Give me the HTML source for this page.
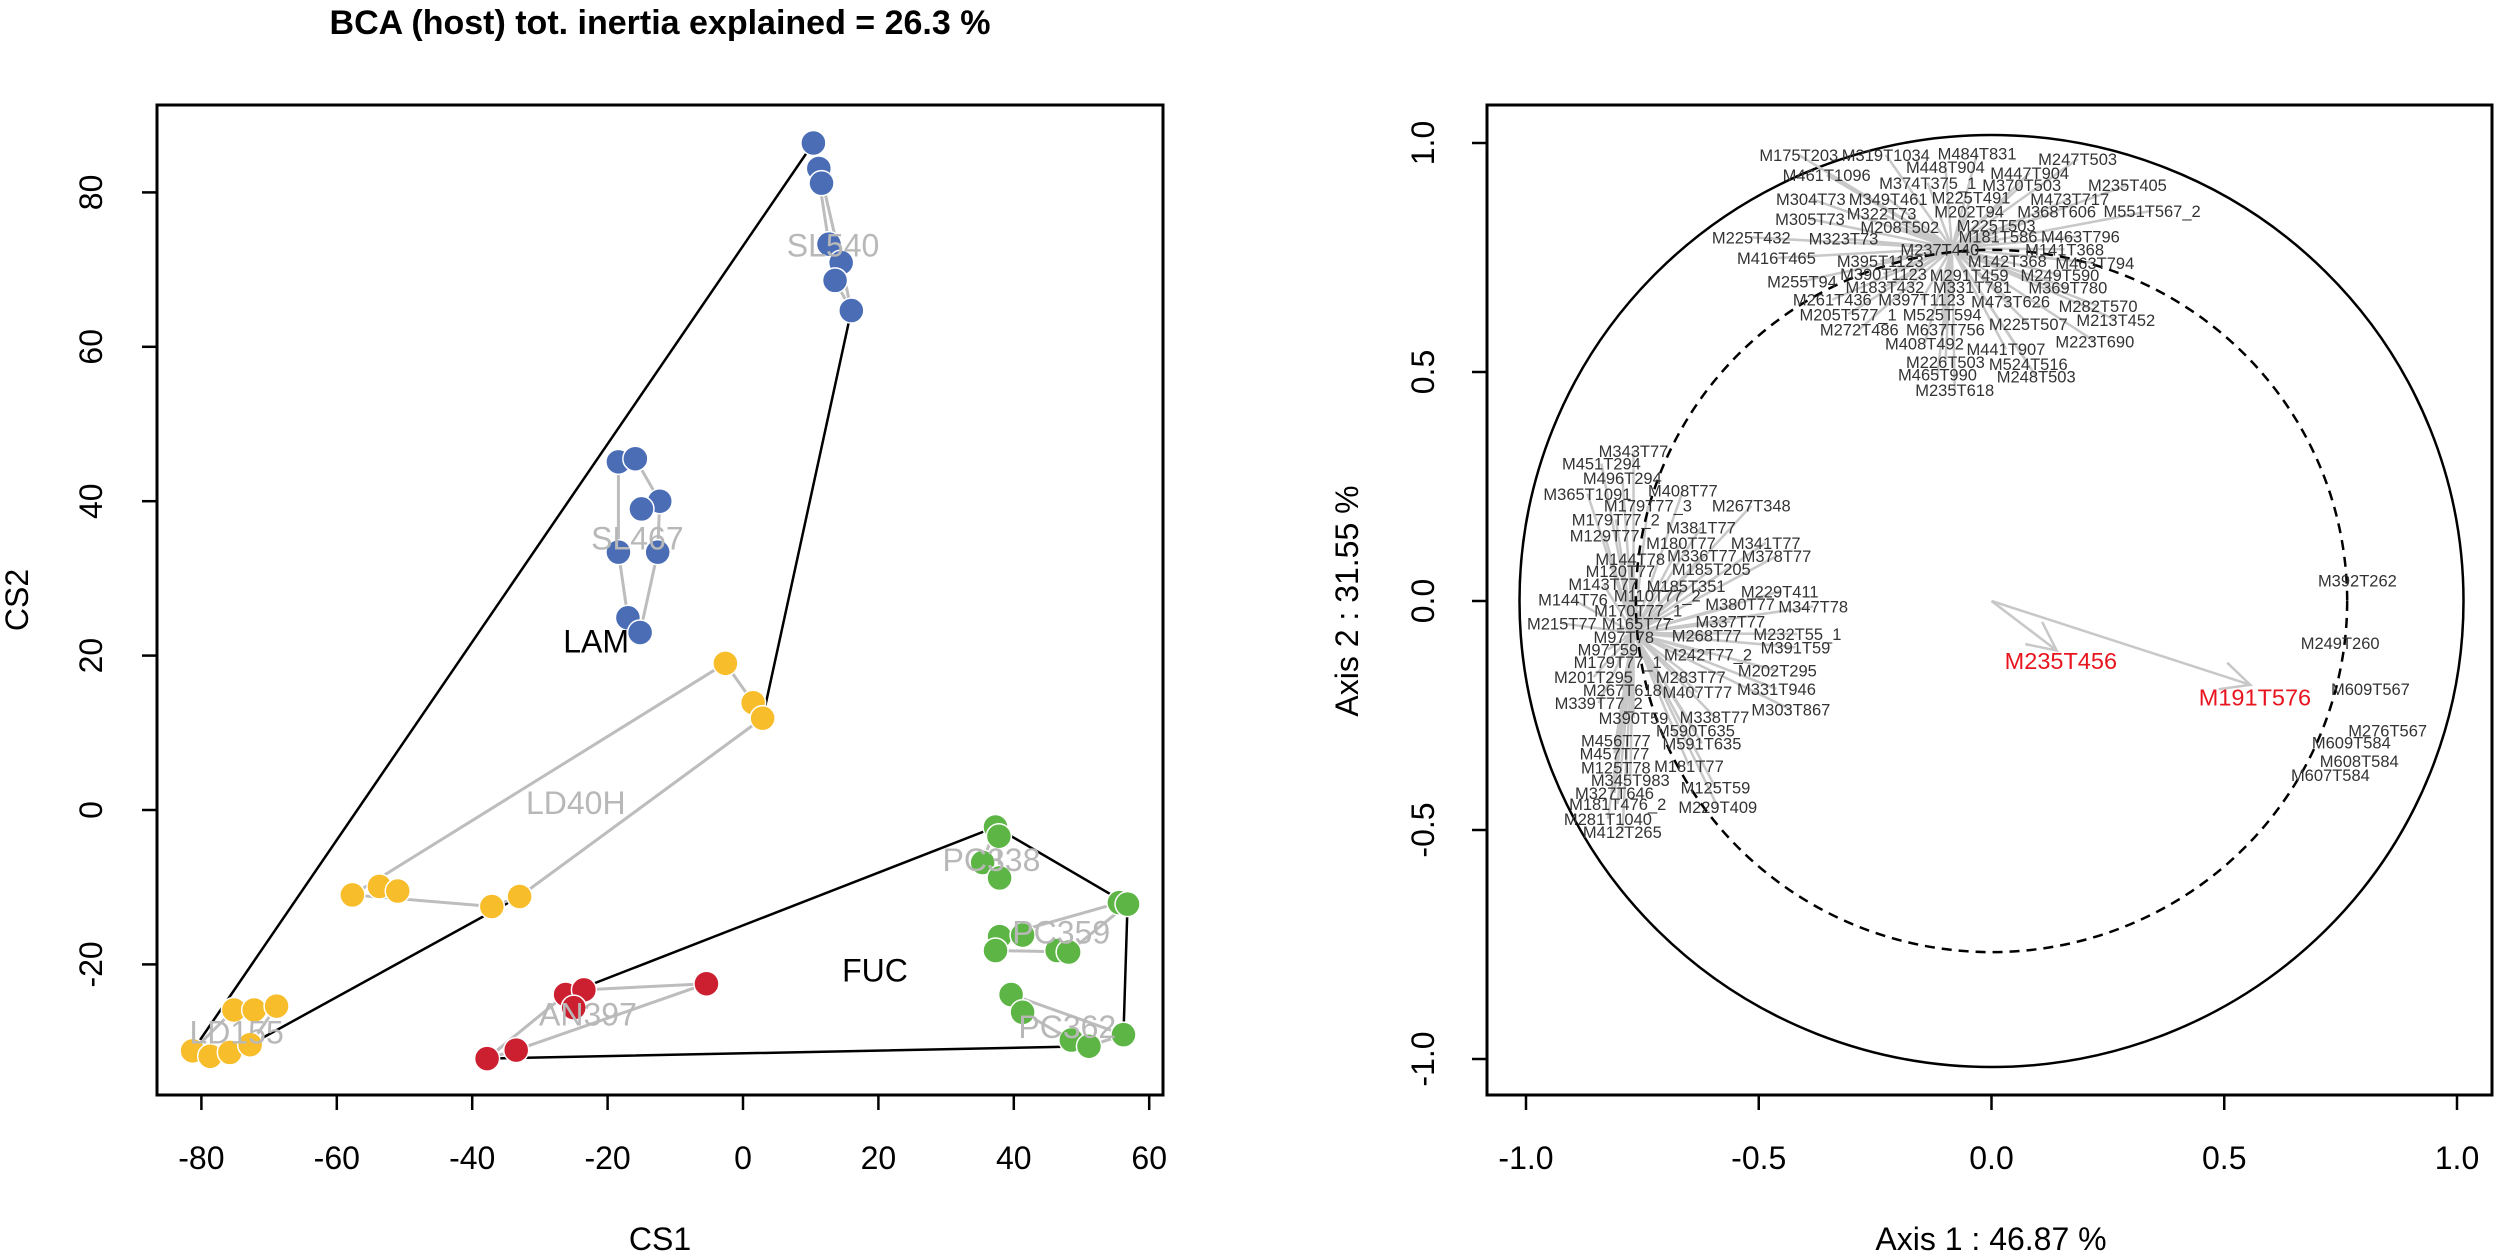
<!DOCTYPE html>
<html><head><meta charset="utf-8"><style>
html,body{margin:0;padding:0;background:#fff;}
svg{display:block;font-family:"Liberation Sans",Arial,sans-serif;}
</style></head><body>
<svg id="chart" width="2500" height="1254" viewBox="0 0 2500 1254" xmlns="http://www.w3.org/2000/svg">
<text x="660" y="34" font-size="34" font-weight="bold" text-anchor="middle">BCA (host) tot. inertia explained = 26.3 %</text>
<g id="left"></g>
<g id="right"></g>
</svg>
<script>
// ---------- Left panel data ----------
const groupNames = ["SL540","SL467","LD40H","LD155","AN397","PC338","PC359","PC362"];
const groupColors = ["#4a6db5","#4a6db5","#f7bd2a","#f7bd2a","#cc1f30","#5db545","#5db545","#5db545"];
const groupClass = ["LAM","LAM","LAM","LAM","FUC","FUC","FUC","FUC"];
const groupPointsX = [
 [10.4,11.2,11.6,12.7,14.5,13.6,16.0],
 [-18.4,-15.9,-12.3,-15.0,-18.4,-12.6,-17.0,-15.2],
 [-2.6,1.5,2.9,-57.7,-53.7,-51.0,-37.1,-33.0],
 [-81.3,-78.7,-75.8,-72.8,-75.2,-72.2,-68.9],
 [-37.8,-33.5,-26.2,-23.5,-5.4,-25.0],
 [37.3,37.8,35.4,37.9],
 [55.6,56.8,37.9,41.3,37.3,46.4,48.1],
 [39.6,41.3,56.2,48.5,51.1]
];
const groupPointsY = [
 [86.4,83.1,81.2,73.3,70.9,68.6,64.7],
 [45.1,45.5,40.0,39.0,33.4,33.4,24.9,23.0],
 [19.0,13.9,11.9,-11.0,-9.9,-10.5,-12.5,-11.2],
 [-31.2,-31.9,-31.4,-30.4,-25.9,-25.9,-25.4],
 [-32.2,-31.1,-23.9,-23.3,-22.5,-25.6],
 [-2.2,-3.4,-6.8,-8.8],
 [-12.0,-12.2,-16.4,-16.2,-18.2,-18.2,-18.4],
 [-23.9,-26.2,-29.1,-29.8,-30.6]
];
const groupLabelX = [13.3,-15.6,-24.7,-74.8,-22.9,36.7,47.0,47.9];
const groupLabelY = [73.1,35.2,0.9,-28.8,-26.5,-6.5,-15.9,-28.1];
const classNames = ["LAM","FUC"];
const classLabelX = [-21.7,19.5];
const classLabelY = [21.8,-20.8];
const leftXTicks = [-80,-60,-40,-20,0,20,40,60];
const leftYTicks = [-20,0,20,40,60,80];

// ---------- Right panel data ----------
const varNames = ["M175T203","M319T1034","M484T831","M247T503","M461T1096","M448T904","M447T904","M374T375_1","M370T503","M235T405","M304T73","M349T461","M225T491","M473T717","M305T73","M322T73","M202T94","M368T606","M551T567_2","M208T502","M225T503","M225T432","M323T73","M181T586","M463T796","M237T440","M141T368","M416T465","M395T1123","M142T368","M463T794","M390T1123","M291T459","M249T590","M255T94","M183T432","M331T781","M369T780","M261T436","M397T1123","M473T626","M282T570","M205T577_1","M525T594","M213T452","M272T486","M637T756","M225T507","M223T690","M408T492","M441T907","M226T503","M524T516","M465T990","M248T503","M235T618",
"M343T77","M451T294","M496T294","M365T1091","M408T77","M179T77_3","M267T348","M179T77_2","M381T77","M129T77","M341T77","M180T77","M336T77","M378T77","M144T78","M185T205","M120T77","M143T77","M185T351","M229T411","M110T77_2","M144T76","M380T77","M347T78","M170T77_1","M215T77","M165T77","M337T77","M232T55_1","M268T77","M97T78","M391T59","M97T59","M242T77_2","M179T77_1","M202T295","M201T295","M283T77","M267T618","M407T77","M331T946","M339T77_2","M303T867","M390T59","M338T77","M590T635","M456T77","M591T635","M457T77","M125T78","M181T77","M345T983","M125T59","M327T646","M181T476_2","M229T409","M281T1040","M412T265",
"M392T262","M249T260","M609T567","M276T567","M609T584","M608T584","M607T584"];
const varX = [-0.414,-0.227,-0.031,0.185,-0.354,-0.099,0.082,-0.137,0.065,0.292,-0.388,-0.222,-0.044,0.168,-0.390,-0.236,-0.048,0.140,0.345,-0.197,0.010,-0.516,-0.318,0.014,0.191,-0.111,0.157,-0.462,-0.239,0.034,0.222,-0.232,-0.048,0.147,-0.407,-0.229,-0.041,0.164,-0.342,-0.150,0.041,0.229,-0.308,-0.106,0.267,-0.284,-0.099,0.079,0.222,-0.144,0.031,-0.099,0.079,-0.116,0.096,-0.079,
-0.769,-0.838,-0.793,-0.868,-0.663,-0.738,-0.516,-0.807,-0.624,-0.831,-0.485,-0.667,-0.622,-0.462,-0.776,-0.602,-0.797,-0.834,-0.656,-0.455,-0.718,-0.899,-0.540,-0.383,-0.759,-0.923,-0.762,-0.561,-0.417,-0.612,-0.790,-0.421,-0.824,-0.609,-0.803,-0.460,-0.855,-0.646,-0.793,-0.632,-0.462,-0.844,-0.431,-0.769,-0.595,-0.636,-0.807,-0.622,-0.810,-0.807,-0.650,-0.776,-0.593,-0.810,-0.803,-0.588,-0.824,-0.793,
0.786,0.749,0.814,0.851,0.773,0.790,0.728];
const varY = [0.974,0.974,0.977,0.965,0.930,0.948,0.935,0.913,0.908,0.908,0.878,0.878,0.881,0.878,0.834,0.846,0.850,0.850,0.852,0.817,0.820,0.794,0.791,0.796,0.796,0.768,0.768,0.749,0.742,0.742,0.738,0.714,0.712,0.712,0.698,0.686,0.686,0.684,0.658,0.658,0.654,0.644,0.626,0.626,0.614,0.593,0.593,0.605,0.567,0.562,0.550,0.522,0.518,0.494,0.490,0.461,
0.328,0.300,0.269,0.234,0.241,0.208,0.208,0.178,0.161,0.143,0.127,0.127,0.099,0.098,0.092,0.070,0.065,0.037,0.033,0.021,0.012,0.003,-0.007,-0.012,-0.021,-0.049,-0.049,-0.045,-0.072,-0.075,-0.079,-0.101,-0.106,-0.117,-0.133,-0.152,-0.166,-0.166,-0.194,-0.199,-0.192,-0.223,-0.237,-0.255,-0.253,-0.283,-0.305,-0.311,-0.333,-0.363,-0.360,-0.391,-0.407,-0.419,-0.443,-0.450,-0.476,-0.504,
0.045,-0.092,-0.192,-0.283,-0.309,-0.349,-0.380];
const varCluster = []; // 0 top, 1 left, 2 right
for (let i=0;i<56;i++) varCluster.push(0);
for (let i=0;i<58;i++) varCluster.push(1);
for (let i=0;i<7;i++) varCluster.push(2);
const clusterAnchorX = [-0.085,-0.769];
const clusterAnchorY = [0.77,-0.07];
const redNames = ["M235T456","M191T576"];
const redTipX = [0.140,0.556];
const redTipY = [-0.108,-0.183];
const redLabelX = [0.149,0.566];
const redLabelY = [-0.131,-0.211];
const rightTicks = [-1.0,-0.5,0.0,0.5,1.0];
const dashedRadius = 0.76;

const NS="http://www.w3.org/2000/svg";
function mk(parent, tag, attrs, text){
  const e=document.createElementNS(NS,tag);
  for(const k in attrs) e.setAttribute(k,attrs[k]);
  if(text!==undefined) e.textContent=text;
  parent.appendChild(e); return e;
}
// ---------- Left panel ----------
const L=document.getElementById('left');
const lx=v=>743+6.77*v, ly=v=>810-7.72*v;
function hull(pts){
  pts=pts.slice().sort((a,b)=>a[0]-b[0]||a[1]-b[1]);
  const cr=(o,a,b)=>(a[0]-o[0])*(b[1]-o[1])-(a[1]-o[1])*(b[0]-o[0]);
  const lo=[],up=[];
  for(const p of pts){while(lo.length>=2&&cr(lo[lo.length-2],lo[lo.length-1],p)<=0)lo.pop();lo.push(p);}
  for(let i=pts.length-1;i>=0;i--){const p=pts[i];while(up.length>=2&&cr(up[up.length-2],up[up.length-1],p)<=0)up.pop();up.push(p);}
  up.pop();lo.pop();return lo.concat(up);
}
classNames.forEach((c,ci)=>{
  let pts=[];
  groupNames.forEach((g,gi)=>{ if(groupClass[gi]===c) groupPointsX[gi].forEach((x,k)=>pts.push([x,groupPointsY[gi][k]])); });
  const h=hull(pts);
  const el=mk(L,'polygon',{points:h.map(p=>lx(p[0])+','+ly(p[1])).join(' '),fill:'none',stroke:'#000','stroke-width':2.5});
  
  
});
groupNames.forEach((g,gi)=>{
  const pts=groupPointsX[gi].map((x,k)=>[x,groupPointsY[gi][k]]);
  const h=hull(pts);
  const el=mk(L,'polygon',{points:h.map(p=>lx(p[0])+','+ly(p[1])).join(' '),fill:'none',stroke:'#bdbdbd','stroke-width':3});
  
  
});
groupNames.forEach((g,gi)=>{
  groupPointsX[gi].forEach((x,k)=>{
    const el=mk(L,'circle',{cx:lx(x),cy:ly(groupPointsY[gi][k]),r:12.5,fill:groupColors[gi],stroke:'#fff','stroke-width':1.5});
    
    
  });
});
groupNames.forEach((g,gi)=>{
  const el=mk(L,'text',{x:lx(groupLabelX[gi]),y:ly(groupLabelY[gi])+11,'font-size':32,fill:'#b8b8b8','text-anchor':'middle'},g);
  
  
});
classNames.forEach((c,ci)=>{
  const el=mk(L,'text',{x:lx(classLabelX[ci]),y:ly(classLabelY[ci])+11,'font-size':32,fill:'#000','text-anchor':'middle'},c);
  
  
});
let e;
e=mk(L,'rect',{x:157,y:105,width:1006,height:990,fill:'none',stroke:'#000','stroke-width':3});


leftXTicks.forEach(t=>{
  let a=mk(L,'line',{x1:lx(t),x2:lx(t),y1:1095,y2:1110,stroke:'#000','stroke-width':2.5});
  
  
  let b=mk(L,'text',{x:lx(t),y:1169,'font-size':32,'text-anchor':'middle'},String(t));
  
  
});
leftYTicks.forEach(t=>{
  let a=mk(L,'line',{x1:142,x2:157,y1:ly(t),y2:ly(t),stroke:'#000','stroke-width':2.5});
  
  
  let b=mk(L,'text',{x:0,y:0,'font-size':32,'text-anchor':'middle',transform:'translate(102,'+ly(t)+') rotate(-90)'},String(t));
  
  
});
e=mk(L,'text',{x:660,y:1250,'font-size':32,'text-anchor':'middle'},'CS1');


e=mk(L,'text',{x:0,y:0,'font-size':32,'text-anchor':'middle',transform:'translate(28,600) rotate(-90)'},'CS2');



// ---------- Right panel ----------
const R=document.getElementById('right');
const rx=v=>1991.5+465.5*v, ry=v=>601-458*v;
e=mk(R,'ellipse',{cx:rx(0),cy:ry(0),rx:472,ry:466,fill:'none',stroke:'#000','stroke-width':2.5});


varNames.forEach((n,i)=>{
  const c=varCluster[i]; if(c>1) return;
  const el=mk(R,'line',{x1:rx(clusterAnchorX[c]),y1:ry(clusterAnchorY[c]),x2:rx(varX[i]),y2:ry(varY[i]),stroke:'#c8c8c8','stroke-width':2.5});
  
  
});
e=mk(R,'ellipse',{cx:rx(0),cy:ry(0),rx:468*dashedRadius,ry:462*dashedRadius,fill:'none',stroke:'#000','stroke-width':2.5,'stroke-dasharray':'10,7'});


redNames.forEach((n,i)=>{
  const x2=rx(redTipX[i]),y2=ry(redTipY[i]),x1=rx(0),y1=ry(0);
  const ang=Math.atan2(y2-y1,x2-x1),hl=32;
  const d='M'+x1+','+y1+' L'+x2+','+y2+' M'+(x2-hl*Math.cos(ang-0.45))+','+(y2-hl*Math.sin(ang-0.45))+' L'+x2+','+y2+' L'+(x2-hl*Math.cos(ang+0.45))+','+(y2-hl*Math.sin(ang+0.45));
  const a=mk(R,'path',{d:d,fill:'none',stroke:'#c8c8c8','stroke-width':2.5});
  
  
});
varNames.forEach((n,i)=>{
  const el=mk(R,'text',{x:rx(varX[i]),y:ry(varY[i])+6,'font-size':16.5,fill:'#333','text-anchor':'middle'},n);
  
  
});
redNames.forEach((n,i)=>{
  const el=mk(R,'text',{x:rx(redLabelX[i]),y:ry(redLabelY[i])+8,'font-size':23.5,fill:'#e8141e','text-anchor':'middle'},n);
  
  
});
e=mk(R,'rect',{x:1487,y:105,width:1005,height:990,fill:'none',stroke:'#000','stroke-width':3});


rightTicks.forEach(t=>{
  let a=mk(R,'line',{x1:rx(t),x2:rx(t),y1:1095,y2:1110,stroke:'#000','stroke-width':2.5});
  
  
  let b=mk(R,'text',{x:rx(t),y:1169,'font-size':32,'text-anchor':'middle'},t.toFixed(1));
  
  
  let c=mk(R,'line',{x1:1472,x2:1487,y1:ry(t),y2:ry(t),stroke:'#000','stroke-width':2.5});
  
  
  let d=mk(R,'text',{x:0,y:0,'font-size':32,'text-anchor':'middle',transform:'translate(1434,'+ry(t)+') rotate(-90)'},t.toFixed(1));
  
  
});
e=mk(R,'text',{x:1991,y:1250,'font-size':32,'text-anchor':'middle'},'Axis 1 :  46.87 %');


e=mk(R,'text',{x:0,y:0,'font-size':32,'text-anchor':'middle',transform:'translate(1358,601) rotate(-90)'},'Axis 2 :  31.55 %');


</script>
</body></html>
